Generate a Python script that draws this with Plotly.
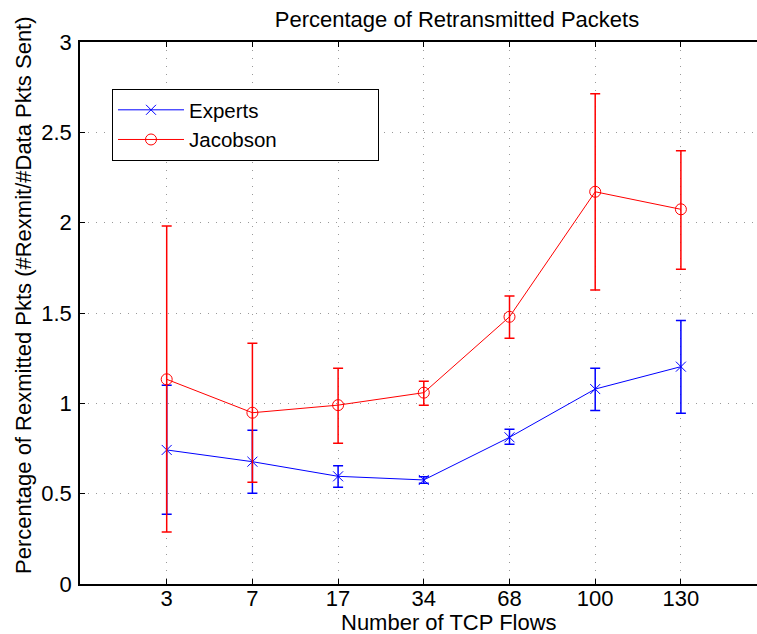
import plotly.graph_objects as go

# ---- data ----
flows = ["3", "7", "17", "34", "68", "100", "130"]

experts_mean = [0.742, 0.677, 0.596, 0.576, 0.812, 1.079, 1.203]
experts_upper = [1.100, 0.851, 0.655, 0.594, 0.856, 1.194, 1.458]
experts_lower = [0.386, 0.502, 0.535, 0.557, 0.773, 0.961, 0.945]

jacobson_mean = [1.133, 0.948, 0.990, 1.059, 1.479, 2.171, 2.074]
jacobson_upper = [1.981, 1.332, 1.194, 1.122, 1.594, 2.713, 2.398]
jacobson_lower = [0.288, 0.563, 0.779, 0.989, 1.360, 1.627, 1.742]

title_text = "Percentage of Retransmitted Packets"
x_title = "Number of TCP Flows"
y_title = "Percentage of Rexmitted Pkts (#Rexmit/#Data Pkts Sent)"
legend_names = ["Experts", "Jacobson"]

xpos = list(range(1, len(flows) + 1))

FONT = "Liberation Sans, Arial, Helvetica, sans-serif"
FS = 22
LFS = 20.5
BLUE = "#0000ff"
RED = "#ff0000"
PAD = "\u00a0" * 20  # widens the legend box like the reference


def plus(m, u):
    return [b - a for a, b in zip(m, u)]


def minus(m, lo):
    return [a - b for a, b in zip(m, lo)]


fig = go.Figure()

fig.add_trace(go.Scatter(
    x=xpos, y=experts_mean, mode="lines+markers",
    name=legend_names[0] + PAD,
    line=dict(color=BLUE, width=1),
    marker=dict(symbol="x-thin-open", size=10, color=BLUE,
                line=dict(color=BLUE, width=1)),
    error_y=dict(type="data", symmetric=False,
                 array=plus(experts_mean, experts_upper),
                 arrayminus=minus(experts_mean, experts_lower),
                 color=BLUE, thickness=1.5, width=5),
))

fig.add_trace(go.Scatter(
    x=xpos, y=jacobson_mean, mode="lines+markers",
    name=legend_names[1],
    line=dict(color=RED, width=1),
    marker=dict(symbol="circle-open", size=11, color=RED,
                line=dict(color=RED, width=1)),
    error_y=dict(type="data", symmetric=False,
                 array=plus(jacobson_mean, jacobson_upper),
                 arrayminus=minus(jacobson_mean, jacobson_lower),
                 color=RED, thickness=1.5, width=5),
))

W, H = 757, 634
L, T, B, R = 80, 42, 50, 0
PW, PH = W - L - R, H - T - B
XSTEP = 85.7  # px per category step

fig.update_layout(
    width=W, height=H,
    margin=dict(l=L, r=R, t=T, b=B),
    paper_bgcolor="white", plot_bgcolor="white",
    font=dict(family=FONT, size=FS, color="black"),
    showlegend=True,
    legend=dict(
        x=(112 - L) / PW, y=1 - (89 - T) / PH,
        xanchor="left", yanchor="top",
        bgcolor="white", bordercolor="black", borderwidth=1,
        font=dict(family=FONT, size=LFS, color="black"),
        itemwidth=66, tracegroupgap=0,
    ),
    title=dict(
        text=title_text, x=(457 - L) / PW, xref="paper",
        xanchor="center", y=1 - 19 / H, yanchor="middle",
        font=dict(family=FONT, size=FS, color="black"),
    ),
    xaxis=dict(
        range=[-1 / XSTEP, (PW - 1) / XSTEP],
        tickvals=xpos, ticktext=flows,
        ticks="inside", ticklen=5, tickwidth=1, tickcolor="black",
        showline=True, linecolor="black", linewidth=1.5, mirror="ticks",
        showgrid=True, gridcolor="#999999", gridwidth=1, griddash="1px,7px",
        zeroline=False, tickfont=dict(size=FS), ticklabelstandoff=-6,
    ),
    yaxis=dict(
        range=[0, 3], tickvals=[0, 0.5, 1, 1.5, 2, 2.5, 3],
        ticktext=["0", "0.5", "1", "1.5", "2", "2.5", "3"],
        ticks="inside", ticklen=5, tickwidth=1, tickcolor="black",
        showline=True, linecolor="black", linewidth=1.5, mirror=False,
        showgrid=True, gridcolor="#999999", gridwidth=1, griddash="1px,7px",
        zeroline=False, tickfont=dict(size=FS), ticklabelstandoff=2,
    ),
)

fig.add_annotation(
    text=x_title, xref="paper", yref="paper",
    x=(449 - L) / PW, y=-(622 - (H - B)) / PH,
    xanchor="center", yanchor="middle", showarrow=False,
    font=dict(family=FONT, size=FS, color="black"),
)
fig.add_annotation(
    text=y_title, xref="paper", yref="paper",
    x=-(L - 23) / PW, y=1 - (295 - T) / PH,
    xanchor="center", yanchor="middle", showarrow=False, textangle=-90,
    font=dict(family=FONT, size=FS, color="black"),
)

fig.write_html(
    "out.html",
    config={"displayModeBar": False},
    post_script="document.body.style.margin='0';document.body.style.overflow='hidden';",
)
